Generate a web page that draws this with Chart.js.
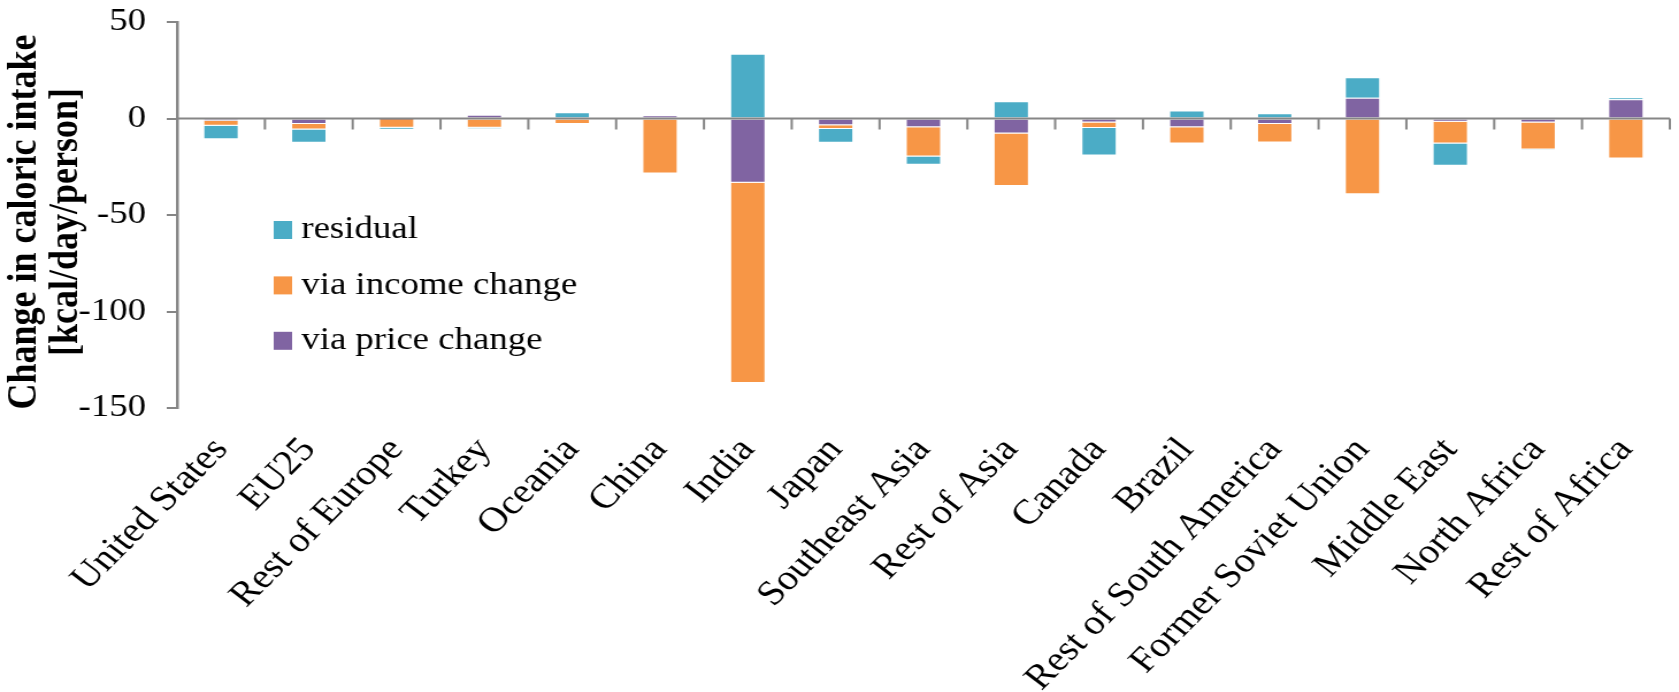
<!DOCTYPE html>
<html>
<head>
<meta charset="utf-8">
<script src="https://cdn.jsdelivr.net/npm/chart.js@4.4.1/dist/chart.umd.min.js"></script>
<style>
  html, body { margin: 0; padding: 0; background: #fff; overflow: hidden; }
  /* the chart is drawn narrow and widened, so the serif text comes out broad like the original figure */
  #wrap { width: 1460px; height: 692px; transform: scaleX(1.15); transform-origin: 0 0; }
</style>
</head>
<body>
<div id="wrap"><canvas id="chart" width="1460" height="692"></canvas></div>
<script>
// regions and the three components of the change (kcal/day/person)
const categories = ['United States', 'EU25', 'Rest of Europe', 'Turkey', 'Oceania', 'China', 'India', 'Japan',
    'Southeast Asia', 'Rest of Asia', 'Canada', 'Brazil', 'Rest of South America', 'Former Soviet Union',
    'Middle East', 'North Africa', 'Rest of Africa'];
const priceChange = [-1.2, -2.9, -0.1, 2.0, 0, 1.7, -33.3, -3.5, -4.5, -7.8, -2.1, -4.5, -2.9, 10.7, -1.7, -2.1, 10.0];
const incomeChange = [-2.6, -2.8, -4.7, -4.8, -2.8, -28.5, -103.8, -1.9, -15.2, -27.2, -2.8, -8.4, -9.5, -39.3, -11.2, -13.9, -20.7];
const residual = [-6.9, -6.9, -1.0, -0.5, 3.3, 0, 33.6, -7.1, -4.3, 9.0, -14.3, 4.1, 2.7, 10.7, -11.6, -0.4, 0.9];
const yTicks = [50, 0, -50, -100, -150];
const yTitle = ['Change in caloric intake', '[kcal/day/person]'];

const SERIF = '"Liberation Serif", "Times New Roman", serif';
const AXIS_GREY = '#868686';

// axis line through zero with tick marks between the regions
const zeroAxis = {
    id: 'zeroAxis',
    afterDatasetsDraw(chart) {
        const { ctx, chartArea, scales: { y } } = chart;
        const y0 = y.getPixelForValue(0);
        const step = chartArea.width / categories.length;
        ctx.save();
        ctx.strokeStyle = AXIS_GREY;
        ctx.lineWidth = 2;
        ctx.beginPath();
        ctx.moveTo(chartArea.left, y0);
        ctx.lineTo(chartArea.right, y0);
        for (let i = 1; i <= categories.length; i++) {
            const bx = chartArea.left + step * i;
            ctx.moveTo(bx, y0);
            ctx.lineTo(bx, y0 + 11);
        }
        ctx.stroke();
        ctx.restore();
    }
};

// legend sitting inside the plot, listed top series first
const legendBox = {
    id: 'legendBox',
    afterDraw(chart) {
        const { ctx } = chart;
        const items = chart.data.datasets.slice().reverse();
        ctx.save();
        ctx.font = '32px ' + SERIF;
        ctx.textBaseline = 'middle';
        items.forEach((ds, i) => {
            const cy = 230 + i * 55.4;
            ctx.fillStyle = ds.backgroundColor;
            ctx.fillRect(238, cy - 9, 16, 18);
            ctx.fillStyle = '#000';
            ctx.fillText(ds.label, 262, cy);
        });
        ctx.restore();
    }
};

// two-line bold y title, a little below the axis middle
const axisTitle = {
    id: 'axisTitle',
    afterDraw(chart) {
        const { ctx } = chart;
        ctx.save();
        ctx.translate(0, 222);
        ctx.rotate(-Math.PI / 2);
        ctx.font = 'bold 36px ' + SERIF;
        ctx.textAlign = 'center';
        ctx.textBaseline = 'middle';
        ctx.fillStyle = '#000';
        yTitle.forEach((t, i) => ctx.fillText(t, 0, 22 + i * 36));
        ctx.restore();
    }
};

function createChart() {
    const ctx = document.getElementById('chart').getContext('2d');
    new Chart(ctx, {
        type: 'bar',
        data: {
            labels: categories,
            datasets: [
                { label: 'via price change', data: priceChange, backgroundColor: '#8064A2' },
                { label: 'via income change', data: incomeChange, backgroundColor: '#F79646' },
                { label: 'residual', data: residual, backgroundColor: '#4BACC6' }
            ]
        },
        options: {
            responsive: false,
            animation: false,
            devicePixelRatio: 1,
            datasets: {
                bar: {
                    categoryPercentage: 1,
                    barPercentage: 0.405,
                    borderWidth: 1,
                    borderColor: 'rgba(255,255,255,0.25)'
                }
            },
            layout: { padding: { top: 22, right: 8, bottom: 0, left: 0 } },
            plugins: {
                legend: { display: false },
                tooltip: { enabled: false }
            },
            scales: {
                x: {
                    stacked: true,
                    border: { display: false },
                    grid: { display: false },
                    ticks: {
                        color: '#000',
                        font: { family: SERIF, size: 35 },
                        minRotation: 49,
                        maxRotation: 49,
                        autoSkip: false,
                        padding: 14
                    },
                    afterFit: s => { s.height = 284; s.paddingLeft = 0; s.paddingRight = 0; }
                },
                y: {
                    stacked: true,
                    min: -150,
                    max: 50,
                    border: { color: AXIS_GREY, width: 2.5 },
                    grid: { drawOnChartArea: false, color: AXIS_GREY, lineWidth: 2, tickLength: 9 },
                    ticks: { color: '#000', font: { family: SERIF, size: 32 }, padding: 18 },
                    afterBuildTicks: s => { s.ticks = yTicks.map(v => ({ value: v })); },
                    afterFit: s => { s.width = 154; s.paddingTop = 0; s.paddingBottom = 0; }
                }
            }
        },
        plugins: [zeroAxis, legendBox, axisTitle]
    });
}

document.addEventListener('DOMContentLoaded', function() {
    createChart();
});
</script>
</body>
</html>
